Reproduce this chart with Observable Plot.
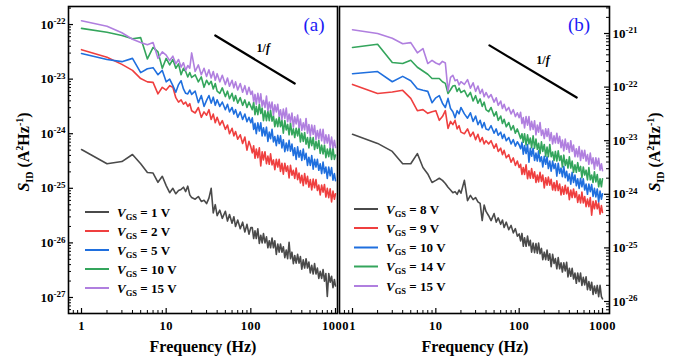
<!DOCTYPE html>
<html><head><meta charset="utf-8">
<script src="https://cdn.jsdelivr.net/npm/d3@7"></script>
<script src="https://cdn.jsdelivr.net/npm/@observablehq/plot@0.6"></script>
<style>
body{margin:0;background:#fff;}
#wrap{position:relative;width:675px;height:361px;}
#wrap svg{position:absolute;top:0;overflow:visible;}
</style></head><body><div id="wrap"></div>
<script>
// ---- data ----
const F = [1,2,3,4,5,6,7,8,9,10,11,12,13,14,15,16,17,18,19,20,
 22,24,26,28,30,32,34,36,38,40,
 43,46,50,53,56,60,63,66,70,75,80,85,90,95,100,
 104,108,112,116,121,126,131,136,141,147,153,159,165,171,178,185,192,200,208,216,224,233,242,252,262,272,283,294,306,318,330,343,357,371,385,400,416,432,449,467,485,504,524,545,566,588,611,635,660,686,713,741,770,800,832,865,899,934,970,1000];

const voltsA = ["1","2","5","10","15"];
const voltsB = ["8","9","10","14","15"];
const colors = ["#4a4a4a","#ef3f3f","#1f6fde","#34a55c","#b07fdf"];

// log10 of S_ID, panel (a)
const L1 = [-24.29,-24.55,-24.51,-24.38,-24.55,-24.71,-24.72,-24.89,-24.78,-24.95,-25.08,-25.00,-25.10,-25.04,-25.02,-24.98,-25.06,-24.96,-25.12,-25.17,
 -25.20,-25.15,-25.24,-25.22,-25.28,-25.18,-25.00,-25.45,-25.30,-25.50,
 -25.40,-25.55,-25.42,-25.60,-25.48,-25.64,-25.52,-25.70,-25.58,-25.74,-25.62,-25.80,-25.66,-25.84,-25.72,
 -25.72,-25.92,-25.78,-25.92,-25.74,-26.01,-25.86,-26.00,-25.83,-26.00,-25.89,-26.09,-25.96,-26.09,-25.91,-26.09,-25.96,-26.21,-26.02,-26.17,-26.02,-26.17,-26.07,-26.27,-26.13,-26.29,-25.99,-26.29,-26.17,-26.38,-26.23,-26.37,-26.21,-26.37,-26.25,-26.48,-26.31,-26.46,-26.29,-26.46,-26.35,-26.55,-26.41,-26.57,-26.38,-26.57,-26.46,-26.65,-26.52,-26.65,-26.49,-26.70,-26.56,-26.98,-26.56,-26.72,-26.61,-26.82,-26.67,-26.79];
const L2 = [-22.46,-22.60,-22.73,-22.84,-22.99,-23.05,-23.06,-23.27,-23.15,-23.20,-23.12,-23.15,-23.34,-23.42,-23.38,-23.46,-23.42,-23.50,-23.45,-23.58,
 -23.62,-23.52,-23.70,-23.60,-23.66,-23.56,-23.74,-23.64,-23.80,-23.70,
 -23.84,-23.76,-23.92,-23.84,-24.00,-23.90,-24.04,-23.96,-24.10,-24.02,-24.18,-24.06,-24.30,-24.14,-24.24,
 -24.35,-24.22,-24.45,-24.28,-24.44,-24.26,-24.59,-24.33,-24.48,-24.33,-24.55,-24.41,-24.56,-24.37,-24.57,-24.48,-24.66,-24.47,-24.61,-24.47,-24.69,-24.54,-24.74,-24.54,-24.69,-24.59,-24.81,-24.58,-24.76,-24.67,-24.82,-24.63,-24.84,-24.72,-24.90,-24.76,-24.95,-24.73,-24.92,-24.78,-24.98,-24.84,-25.03,-24.83,-24.99,-24.84,-25.04,-24.94,-25.12,-24.94,-25.07,-24.93,-25.16,-25.00,-25.17,-25.01,-25.25,-25.05,-25.20,-25.10];
const L5 = [-22.53,-22.64,-22.68,-22.62,-22.88,-22.81,-22.79,-22.92,-22.84,-23.05,-23.00,-23.12,-23.24,-23.10,-23.03,-23.18,-23.26,-23.27,-23.20,-23.28,
 -23.22,-23.43,-23.30,-23.50,-23.39,-23.30,-23.44,-23.33,-23.48,-23.38,
 -23.50,-23.42,-23.56,-23.46,-23.60,-23.52,-23.64,-23.56,-23.70,-23.60,-23.74,-23.64,-23.78,-23.70,-23.80,
 -23.71,-23.92,-23.81,-24.00,-23.80,-23.95,-23.80,-24.04,-23.89,-24.04,-23.88,-24.14,-23.97,-24.09,-23.92,-24.15,-24.05,-24.22,-24.03,-24.18,-24.04,-24.26,-24.11,-24.33,-24.17,-24.31,-24.12,-24.32,-24.19,-24.40,-24.26,-24.47,-24.24,-24.43,-24.31,-24.49,-24.28,-24.47,-24.36,-24.58,-24.43,-24.58,-24.40,-24.65,-24.47,-24.61,-24.47,-24.67,-24.55,-24.73,-24.52,-24.72,-24.61,-24.82,-24.61,-24.77,-24.62,-24.85,-24.73,-24.86];
const L10 = [-22.07,-22.14,-22.20,-22.26,-22.24,-22.63,-22.42,-22.50,-22.80,-22.62,-22.74,-22.64,-22.80,-22.72,-22.92,-22.80,-22.86,-22.96,-22.88,-22.97,
 -22.92,-23.05,-22.96,-23.15,-23.02,-23.10,-23.04,-23.18,-23.08,-23.22,
 -23.26,-23.16,-23.32,-23.22,-23.36,-23.26,-23.40,-23.30,-23.44,-23.34,-23.48,-23.38,-23.52,-23.42,-23.50,
 -23.56,-23.42,-23.65,-23.50,-23.65,-23.46,-23.63,-23.53,-23.76,-23.58,-23.76,-23.58,-23.76,-23.57,-23.77,-23.67,-23.87,-23.73,-23.87,-23.69,-23.87,-23.75,-23.99,-23.76,-23.93,-23.83,-24.02,-23.80,-24.02,-23.91,-24.07,-23.90,-24.04,-23.89,-24.15,-23.99,-24.14,-23.98,-24.19,-24.07,-24.26,-24.06,-24.22,-24.07,-24.29,-24.14,-24.27,-24.12,-24.36,-24.21,-24.37,-24.21,-24.44,-24.28,-24.42,-24.26,-24.47,-24.26,-24.47,-24.39];
const L15 = [-21.93,-22.03,-22.15,-22.27,-22.33,-22.37,-22.33,-22.62,-22.50,-22.56,-22.66,-22.58,-22.72,-22.64,-22.78,-22.70,-22.84,-22.75,-22.80,-22.52,
 -22.86,-22.74,-22.92,-22.80,-22.95,-22.83,-22.98,-22.86,-23.02,-22.90,
 -23.05,-22.93,-23.10,-22.98,-23.13,-23.02,-23.16,-23.05,-23.20,-23.08,-23.24,-23.12,-23.28,-23.15,-23.28,
 -23.22,-23.41,-23.28,-23.46,-23.26,-23.44,-23.27,-23.50,-23.39,-23.52,-23.31,-23.58,-23.42,-23.55,-23.42,-23.66,-23.47,-23.60,-23.46,-23.68,-23.56,-23.74,-23.55,-23.72,-23.53,-23.78,-23.64,-23.79,-23.62,-23.88,-23.69,-23.82,-23.66,-23.89,-23.73,-23.94,-23.80,-23.93,-23.72,-23.99,-23.83,-24.04,-23.84,-24.01,-23.85,-24.11,-23.94,-24.09,-23.92,-24.13,-23.92,-24.18,-24.02,-24.17,-24.02,-24.25,-24.06,-24.26,-24.12,-24.25];

// log10 of S_ID, panel (b)
const R8 = [-22.88,-23.05,-23.20,-23.43,-23.43,-23.24,-23.50,-23.62,-23.78,-23.74,-23.70,-23.74,-23.80,-23.87,-23.92,-23.97,-23.95,-24.00,-23.92,-23.98,
 -23.74,-24.12,-24.02,-24.10,-24.06,-24.14,-24.17,-24.49,-24.20,-24.32,
 -24.40,-24.49,-24.36,-24.52,-24.44,-24.56,-24.48,-24.62,-24.52,-24.66,-24.58,-24.72,-24.64,-24.78,-24.74,
 -24.87,-24.73,-24.97,-24.81,-24.97,-24.78,-24.96,-24.86,-25.08,-24.91,-25.09,-24.92,-25.10,-24.91,-25.11,-25.01,-25.22,-25.08,-25.22,-25.04,-25.23,-25.11,-25.35,-25.12,-25.29,-25.20,-25.39,-25.18,-25.39,-25.28,-25.45,-25.28,-25.43,-25.27,-25.54,-25.38,-25.53,-25.38,-25.58,-25.47,-25.66,-25.47,-25.63,-25.47,-25.70,-25.55,-25.69,-25.54,-25.78,-25.63,-25.79,-25.64,-25.87,-25.71,-25.85,-25.70,-25.91,-25.70,-25.91,-25.95];
const R9 = [-21.95,-22.12,-22.09,-22.06,-22.21,-22.44,-22.42,-22.49,-22.46,-22.44,-22.62,-22.55,-22.44,-22.77,-22.64,-22.70,-22.62,-22.78,-22.72,-22.84,
 -22.87,-22.78,-22.92,-22.84,-22.98,-22.88,-23.02,-22.94,-23.06,-23.00,
 -23.06,-23.00,-23.14,-23.06,-23.20,-23.14,-23.26,-23.18,-23.32,-23.26,-23.40,-23.32,-23.46,-23.38,-23.50,
 -23.44,-23.63,-23.50,-23.63,-23.45,-23.71,-23.56,-23.70,-23.52,-23.70,-23.58,-23.78,-23.64,-23.77,-23.59,-23.76,-23.64,-23.88,-23.69,-23.83,-23.68,-23.83,-23.72,-23.92,-23.78,-23.93,-23.75,-23.93,-23.81,-24.01,-23.86,-24.00,-23.83,-23.99,-23.87,-24.10,-23.92,-24.06,-23.90,-24.06,-23.95,-24.15,-24.01,-24.16,-23.96,-24.16,-24.04,-24.23,-24.09,-24.23,-24.06,-24.39,-24.13,-24.27,-24.12,-24.27,-24.16,-24.37,-24.21,-24.34];
const R10 = [-21.75,-21.71,-21.90,-21.80,-21.88,-22.03,-22.06,-22.08,-22.29,-22.20,-22.16,-22.30,-22.38,-22.21,-22.40,-22.46,-22.57,-22.44,-22.50,-22.38,
 -22.50,-22.58,-22.48,-22.64,-22.54,-22.70,-22.62,-22.76,-22.66,-22.78,
 -22.80,-22.72,-22.86,-22.78,-22.90,-22.84,-22.96,-22.88,-23.00,-22.94,-23.06,-22.98,-23.10,-23.02,-23.08,
 -23.15,-23.03,-23.25,-23.09,-23.24,-23.07,-23.40,-23.14,-23.29,-23.14,-23.37,-23.23,-23.38,-23.19,-23.39,-23.30,-23.49,-23.29,-23.44,-23.30,-23.52,-23.38,-23.57,-23.38,-23.52,-23.43,-23.66,-23.42,-23.61,-23.51,-23.67,-23.48,-23.69,-23.57,-23.75,-23.62,-23.81,-23.59,-23.78,-23.64,-23.84,-23.71,-23.89,-23.70,-23.86,-23.71,-23.92,-23.81,-24.00,-23.81,-23.95,-23.82,-24.04,-23.89,-24.05,-23.90,-24.14,-23.94,-24.09,-23.99];
const R14 = [-21.26,-21.20,-21.54,-21.56,-21.50,-21.63,-21.70,-21.76,-21.84,-21.84,-21.84,-21.90,-21.93,-22.12,-22.05,-21.98,-21.97,-22.08,-22.02,-22.10,
 -22.06,-22.18,-22.10,-22.26,-22.16,-22.30,-22.22,-22.36,-22.28,-22.42,
 -22.46,-22.38,-22.54,-22.46,-22.62,-22.54,-22.68,-22.60,-22.74,-22.66,-22.80,-22.72,-22.86,-22.78,-22.88,
 -22.96,-22.87,-23.03,-22.87,-23.08,-22.89,-23.06,-22.95,-23.13,-22.91,-23.14,-22.97,-23.16,-23.05,-23.24,-23.02,-23.20,-23.07,-23.29,-23.12,-23.30,-23.07,-23.30,-23.21,-23.37,-23.20,-23.38,-23.19,-23.37,-23.28,-23.49,-23.27,-23.46,-23.35,-23.51,-23.30,-23.51,-23.38,-23.59,-23.45,-23.59,-23.41,-23.57,-23.48,-23.69,-23.49,-23.64,-23.55,-23.73,-23.50,-23.73,-23.64,-23.78,-23.58,-23.77,-23.63,-23.86,-23.71,-23.86,-23.71];
const R15 = [-20.93,-21.00,-21.09,-21.19,-21.17,-21.36,-21.28,-21.56,-21.50,-21.55,-21.58,-21.52,-21.55,-22.07,-21.82,-21.78,-21.88,-21.86,-21.96,-21.90,
 -21.95,-21.86,-22.02,-21.92,-22.08,-21.98,-22.12,-22.04,-22.18,-22.10,
 -22.20,-22.14,-22.28,-22.20,-22.34,-22.26,-22.40,-22.32,-22.44,-22.38,-22.50,-22.42,-22.55,-22.48,-22.57,
 -22.47,-22.68,-22.57,-22.76,-22.55,-22.71,-22.55,-22.80,-22.64,-22.79,-22.63,-22.89,-22.71,-22.84,-22.66,-22.90,-22.80,-22.96,-22.78,-22.92,-22.78,-23.00,-22.85,-23.06,-22.91,-23.04,-22.86,-23.05,-22.92,-23.13,-22.99,-23.19,-22.97,-23.16,-23.04,-23.22,-23.00,-23.20,-23.08,-23.30,-23.15,-23.30,-23.11,-23.37,-23.18,-23.33,-23.18,-23.38,-23.26,-23.44,-23.23,-23.43,-23.32,-23.53,-23.32,-23.47,-23.33,-23.55,-23.43,-23.56];

// 1/f guide lines and their label anchors
const guideAf = [38, 330], guideAs = [6.3e-23, 8.3e-24];
const guideBf = [44, 490], guideBs = [6.0e-22, 6.4e-23];
const labelA = {f: 142, s: 3.6e-23};
const labelB = {f: 196, s: 3.2e-22};

// ticks
const xMajor = [1, 10, 100, 1000];
const yMajorA = [1e-27, 1e-26, 1e-25, 1e-24, 1e-23, 1e-22];
const yMajorB = [1e-26, 1e-25, 1e-24, 1e-23, 1e-22, 1e-21];

const FONT = "'Liberation Serif','Times New Roman',serif";
const NS = "http://www.w3.org/2000/svg";

function minorTicks(majors, domain) {
  const out = [];
  const lo = Math.floor(Math.log10(domain[0])), hi = Math.ceil(Math.log10(domain[1]));
  for (let e = lo; e <= hi; e++) for (let k = 2; k <= 9; k++) {
    const v = k * Math.pow(10, e);
    if (v > domain[0] && v < domain[1]) out.push(v);
  }
  return out;
}

function addText(svg, x, y, parts, attrs = {}) {
  const t = document.createElementNS(NS, "text");
  t.setAttribute("x", x); t.setAttribute("y", y);
  t.setAttribute("font-family", FONT);
  t.setAttribute("text-anchor", "start");
  for (const [k, v] of Object.entries(attrs)) t.setAttribute(k, v);
  for (const [txt, a] of parts) {
    const s = document.createElementNS(NS, "tspan");
    s.textContent = txt;
    for (const [k, v] of Object.entries(a || {})) s.setAttribute(k, v);
    t.appendChild(s);
  }
  svg.appendChild(t);
  return t;
}

function panel(o) {
  const H = 361, mT = 6, mB = 48;
  const plotW = o.width - o.mL - o.mR, plotH = H - mT - mB;
  const marks = [];
  o.logs.forEach((vals, j) => {
    const rows = F.map((f, i) => ({f, s: Math.pow(10, vals[i])}));
    marks.push(Plot.line(rows, {x: "f", y: "s", stroke: colors[j], strokeWidth: 1.6, clip: true}));
  });
  const g = o.gf.map((f, i) => ({f, s: o.gs[i]}));
  marks.push(Plot.line(g, {x: "f", y: "s", stroke: "black", strokeWidth: 2.2}));
  const yMin = minorTicks(o.yMajor, o.yDomain);
  const xMin = minorTicks(xMajor, o.xDomain);
  if (o.side === "left") {
    marks.push(Plot.tickY(o.yMajor, {y: d => d, insetRight: plotW - 5, strokeWidth: 1.2}));
    marks.push(Plot.tickY(yMin, {y: d => d, insetRight: plotW - 3}));
  } else {
    marks.push(Plot.tickY(o.yMajor, {y: d => d, insetLeft: plotW - 5, strokeWidth: 1.2}));
    marks.push(Plot.tickY(yMin, {y: d => d, insetLeft: plotW - 3}));
  }
  marks.push(Plot.tickX(xMajor, {x: d => d, insetTop: plotH - 5, strokeWidth: 1.2}));
  marks.push(Plot.tickX(xMin, {x: d => d, insetTop: plotH - 3}));
  marks.push(Plot.axisX(xMajor, {tickSize: 0, tickPadding: 8, label: null, tickFormat: d => String(d), fontSize: 12.5}));
  marks.push(Plot.axisY(o.yMajor, {anchor: o.side, tickSize: 0, tickPadding: 3, label: null,
    tickFormat: d => "10^" + Math.round(Math.log10(d)), fontSize: 13}));
  marks.push(Plot.frame({stroke: "black", strokeWidth: 1.6}));
  const svg = Plot.plot({
    width: o.width, height: H, marginLeft: o.mL, marginRight: o.mR, marginTop: mT, marginBottom: mB,
    x: {type: "log", domain: o.xDomain, axis: null},
    y: {type: "log", domain: o.yDomain, axis: null},
    style: {fontFamily: FONT, fontSize: "13px", fontWeight: "bold", color: "black", background: "transparent", overflow: "visible"},
    marks
  });
  svg.style.left = o.left + "px";
  // superscript exponents on y labels
  d3.select(svg).selectAll('g[aria-label="y-axis tick label"] text').each(function () {
    const parts = this.textContent.split("^");
    this.textContent = "";
    const a = document.createElementNS(NS, "tspan"); a.textContent = parts[0];
    const b = document.createElementNS(NS, "tspan"); b.textContent = parts[1];
    b.setAttribute("dy", "-0.5em"); b.setAttribute("font-size", "9px");
    this.appendChild(a); this.appendChild(b);
  });
  d3.select(svg).selectAll('g[aria-label="x-axis tick label"]').attr("letter-spacing", "0.5px");
  // 1/f label
  const xs = svg.scale("x"), ys = svg.scale("y");
  addText(svg, xs.apply(o.lab.f), ys.apply(o.lab.s) + 4,
    [["1/", {}], ["f", {"font-style": "italic"}]],
    {"font-size": "12", "font-weight": "bold", "text-anchor": "middle"});
  return svg;
}

const wrap = document.getElementById("wrap");

const svgA = panel({left: 0, width: 338, mL: 68, mR: 1, side: "left",
  xDomain: [0.702, 1056], yDomain: [5.09e-28, 2.14e-22], yMajor: yMajorA,
  logs: [L1, L2, L5, L10, L15], gf: guideAf, gs: guideAs, lab: labelA});
const svgB = panel({left: 338, width: 337, mL: 1, mR: 66, side: "right",
  xDomain: [0.698, 1213], yDomain: [5.97e-27, 3.19e-21], yMajor: yMajorB,
  logs: [R8, R9, R10, R14, R15], gf: guideBf, gs: guideBs, lab: labelB});
wrap.appendChild(svgA);
wrap.appendChild(svgB);

// axis titles
function freqTitle(svg, cx) {
  addText(svg, cx, 352, [["Frequency (Hz)", {}]], {"font-size": "16", "font-weight": "bold", "text-anchor": "middle"});
}
freqTitle(svgA, 203);
freqTitle(svgB, 475 - 338);

function yTitle(svg, x, y) {
  addText(svg, 0, 0, [
    ["S", {"font-style": "italic"}],
    ["ID", {"font-size": "10", dy: "4"}],
    ["\u00a0(A", {dy: "-4"}],
    ["2", {"font-size": "10", dy: "-6"}],
    ["Hz", {dy: "6"}],
    ["-1", {"font-size": "10", dy: "-6"}],
    [")", {dy: "6"}]
  ], {"font-size": "16", "font-weight": "bold", "text-anchor": "middle",
      transform: `translate(${x},${y}) rotate(-90)`});
}
yTitle(svgA, 29, 152);
yTitle(svgB, 660 - 338, 152);

// panel letters
addText(svgA, 314, 31, [["(a)", {}]], {"font-size": "19", "font-weight": "normal", fill: "#1a1af5", "text-anchor": "middle"});
addText(svgB, 579 - 338, 31, [["(b)", {}]], {"font-size": "19", "font-weight": "normal", fill: "#1a1af5", "text-anchor": "middle"});

// legends
function legend(svg, x0, ys, volts) {
  volts.forEach((v, i) => {
    const l = document.createElementNS(NS, "line");
    l.setAttribute("x1", x0); l.setAttribute("x2", x0 + 24);
    l.setAttribute("y1", ys[i]); l.setAttribute("y2", ys[i]);
    l.setAttribute("stroke", colors[i]); l.setAttribute("stroke-width", "2");
    svg.appendChild(l);
    addText(svg, x0 + 32, ys[i] + 4.5, [
      ["V", {"font-style": "italic"}],
      ["GS", {"font-size": "8.5", dy: "3"}],
      ["\u00a0=\u00a0" + v + "\u00a0V", {dy: "-3"}]
    ], {"font-size": "13", "font-weight": "bold", "text-anchor": "start"});
  });
}
legend(svgA, 85, [212, 231, 250, 269, 288], voltsA);
legend(svgB, 354 - 338, [209, 228, 247.5, 266.5, 286], voltsB);
</script></body></html>
